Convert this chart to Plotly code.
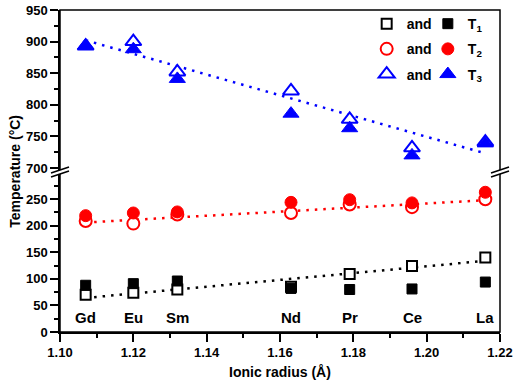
import numpy as np
import plotly.graph_objects as go

# ---- data ----
elements = ['Gd', 'Eu', 'Sm', 'Nd', 'Pr', 'Ce', 'La']
radius = [1.107, 1.120, 1.132, 1.163, 1.179, 1.196, 1.216]
t1_open = [70, 74, 80, 85, 109, 124, 140]
t1_fill = [88, 91, 96, 82, 80, 81, 94]
t2_open = [209, 204, 221, 224, 240, 235, 250]
t2_fill = [219, 224, 226, 244, 249, 243, 263]
t3_open = [893, 900, 852, 822, 777, 732, 741]
t3_fill = [894, 888, 841, 786, 763, 720, 739]
x_ticks = [1.10, 1.12, 1.14, 1.16, 1.18, 1.20, 1.22]
y_low_ticks = [0, 50, 100, 150, 200, 250]
y_high_ticks = [700, 750, 800, 850, 900, 950]

FONT = 'Liberation Sans, Arial, sans-serif'
fig = go.Figure()

series = [
    ('T<sub>1</sub>', t1_open, t1_fill, 'black', 'square', 10, 'y', 'g1'),
    ('T<sub>2</sub>', t2_open, t2_fill, '#ff0000', 'circle', 12, 'y', 'g2'),
    ('T<sub>3</sub>', t3_open, t3_fill, '#0000ff', 'triangle-up', 14, 'y2', 'g3'),
]

# fit lines (linear regression of the open-symbol data)
for name, yo, yf, col, sym, sz, yax, grp in series:
    p = np.polyfit(radius, yo, 1)
    xs = [min(radius), max(radius)]
    fig.add_trace(go.Scatter(x=xs, y=np.polyval(p, xs), mode='lines', yaxis=yax,
                             line=dict(color=col, width=2.5, dash='2.5px,6px'),
                             showlegend=False, hoverinfo='skip'))

for name, yo, yf, col, sym, sz, yax, grp in series:
    fig.add_trace(go.Scatter(x=radius, y=yo, mode='markers', yaxis=yax, name='and',
                             legend='legend', legendgroup=grp,
                             marker=dict(symbol=sym, size=sz, color='white',
                                         line=dict(color=col, width=2))))
for name, yo, yf, col, sym, sz, yax, grp in series:
    fig.add_trace(go.Scatter(x=radius, y=yf, mode='markers', yaxis=yax, name=name,
                             legend='legend2', legendgroup=grp,
                             marker=dict(symbol=sym, size=sz, color=col,
                                         line=dict(color=col, width=1))))

# element labels
for el, r in zip(elements, radius):
    fig.add_annotation(x=r, y=27, xref='x', yref='y', text=el, showarrow=False,
                       font=dict(family=FONT, size=15, color='black', weight='bold'))

axis_font = dict(family=FONT, size=13, color='black', weight='bold')
common = dict(showgrid=False, zeroline=False, showline=True, linecolor='black', linewidth=1.5,
              ticks='outside', ticklen=8, tickwidth=1.5, tickcolor='black', tickfont=axis_font,
              automargin=False)

fig.update_layout(
    width=517, height=382,
    margin=dict(l=60, r=17, t=10, b=50, autoexpand=False),
    plot_bgcolor='white', paper_bgcolor='white',
    xaxis=dict(domain=[0, 1], range=[1.10, 1.22], anchor='y', tickvals=x_ticks,
               tickformat='.2f',
               minor=dict(dtick=0.01, tick0=1.10, ticklen=4, tickwidth=1.5, tickcolor='black', ticks='outside'),
               **common),
    yaxis=dict(domain=[0, 0.495], range=[0, 300], anchor='x', tickvals=y_low_ticks,
               minor=dict(tickvals=[25, 75, 125, 175, 225, 275], ticklen=4, tickwidth=1.5,
                          tickcolor='black', ticks='outside'),
               **common),
    yaxis2=dict(domain=[0.5, 1], range=[695.3, 950], anchor='x', tickvals=y_high_ticks,
                minor=dict(tickvals=[725, 775, 825, 875, 925], ticklen=4, tickwidth=1.5,
                           tickcolor='black', ticks='outside'),
                **common),
    legend=dict(x=0.697, y=1.006, xanchor='left', yanchor='top', bgcolor='rgba(0,0,0,0)',
                font=dict(family=FONT, size=14, color='black', weight='bold'),
                tracegroupgap=4),
    legend2=dict(x=0.836, y=1.006, xanchor='left', yanchor='top', bgcolor='rgba(0,0,0,0)',
                 font=dict(family=FONT, size=14, color='black', weight='bold'),
                 tracegroupgap=4),
    showlegend=True,
)

# frame
fig.add_shape(type='rect', xref='paper', yref='paper', x0=0, x1=1, y0=0, y1=1,
              line=dict(color='black', width=1.5), layer='above')

# axis break marks
W, H = 440.0, 322.0
yb = 0.497
for xb in (0.0, 1.0):
    def P(dx, dy):
        return f'{xb + dx / W:.5f},{yb + dy / H:.5f}'
    fig.add_shape(type='path', xref='paper', yref='paper',
                  path=f'M{P(-9, -1)} L{P(9, 5)} L{P(9, 1)} L{P(-9, -5)} Z',
                  fillcolor='white', line=dict(width=0), layer='above')
    for off in (0, -4):
        fig.add_shape(type='line', xref='paper', yref='paper',
                      x0=xb - 9 / W, y0=yb + (off - 1) / H,
                      x1=xb + 9 / W, y1=yb + (off + 5) / H,
                      line=dict(color='black', width=1.5), layer='above')

fig.add_annotation(x=-0.103, y=0.5, xref='paper', yref='paper', text='Temperature (°C)',
                   textangle=-90, showarrow=False, xanchor='center', yanchor='middle',
                   font=dict(family=FONT, size=14, color='black', weight='bold'))
fig.add_annotation(x=0.5, y=-0.124, xref='paper', yref='paper', text='Ionic radius (Å)',
                   showarrow=False, xanchor='center', yanchor='middle',
                   font=dict(family=FONT, size=14, color='black', weight='bold'))

fig.write_html('out.html', config={'displayModeBar': False},
               post_script="document.body.style.margin='0';")
